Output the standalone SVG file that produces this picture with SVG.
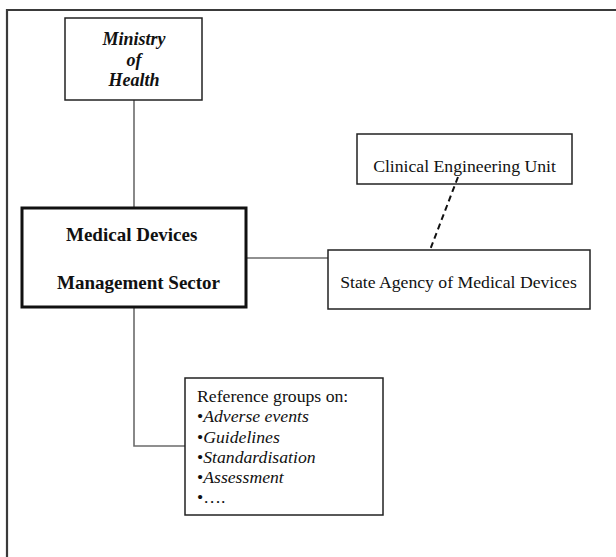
<svg xmlns="http://www.w3.org/2000/svg" width="616" height="557" viewBox="0 0 616 557">
<style>
.box{fill:#fff;stroke:#222;stroke-width:1.5}
.thick{fill:#fff;stroke:#111;stroke-width:3}
.conn{fill:none;stroke:#6b6b6b;stroke-width:1.6}
.dash{fill:none;stroke:#111;stroke-width:2;stroke-dasharray:6 4}
.t{font-family:"Liberation Serif","Times New Roman",serif;font-size:17.7px;fill:#111}
.bi{font-family:"Liberation Serif","Times New Roman",serif;font-size:18px;font-weight:bold;font-style:italic;fill:#111}
.b{font-family:"Liberation Serif","Times New Roman",serif;font-size:19px;font-weight:bold;fill:#111}
.i{font-style:italic}
</style>
<rect width="616" height="557" fill="#fff"/>
<g id="frame">
<path d="M7 557 V10 H616" fill="none" stroke="#3a3a3a" stroke-width="2.2"/>
</g>
<g id="connectors">
<line class="conn" x1="134" y1="100" x2="134" y2="208"/>
<line class="conn" x1="246" y1="258" x2="332" y2="258"/>
<path class="conn" d="M134 307 V446 H186"/>
</g>
<g id="ministry">
<rect class="box" x="65" y="18" width="137" height="82"/>
<text class="bi" x="134" y="45" text-anchor="middle">Ministry</text>
<text class="bi" x="134" y="65.5" text-anchor="middle">of</text>
<text class="bi" x="134" y="86" text-anchor="middle">Health</text>
</g>
<g id="medical">
<rect class="thick" x="22" y="208" width="224" height="99"/>
<text class="b" x="66" y="241">Medical Devices</text>
<text class="b" x="57" y="289">Management Sector</text>
</g>
<g id="clinical">
<rect class="box" x="357" y="134" width="215" height="50"/>
<text class="t" x="464.5" y="172" text-anchor="middle">Clinical Engineering Unit</text>
</g>
<g id="agency">
<rect class="box" x="328" y="250" width="262" height="59"/>
<text class="t" x="458.5" y="288" text-anchor="middle">State Agency of Medical Devices</text>
</g>
<g id="dashed-link">
<line class="dash" x1="458" y1="177" x2="430" y2="250"/>
</g>
<g id="reference">
<rect class="box" x="185" y="378" width="198" height="137"/>
<text class="t" x="197" y="402">Reference groups on:</text>
<text class="t" x="197" y="422">•<tspan class="i">Adverse events</tspan></text>
<text class="t" x="197" y="442.5">•<tspan class="i">Guidelines</tspan></text>
<text class="t" x="197" y="463">•<tspan class="i">Standardisation</tspan></text>
<text class="t" x="197" y="483">•<tspan class="i">Assessment</tspan></text>
<text class="t" x="197" y="503">•….</text>
</g>
</svg>
